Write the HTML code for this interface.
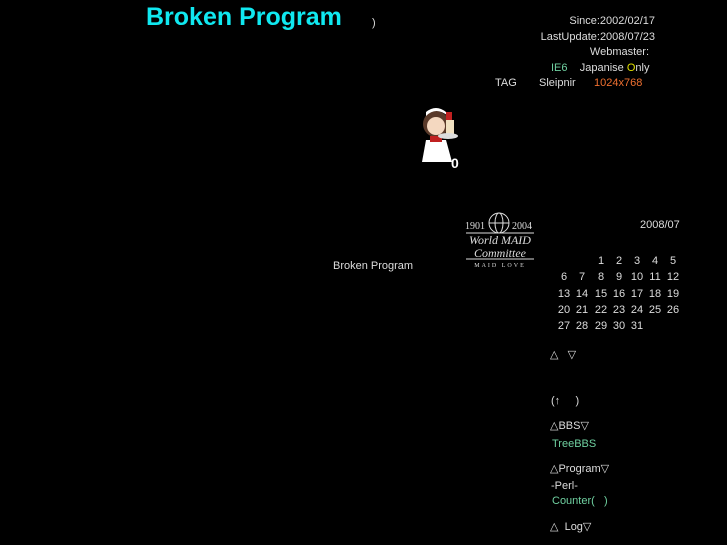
<!DOCTYPE html>
<html><head><meta charset="utf-8"><style>
body{margin:0;width:727px;height:545px;background:#000;position:relative;overflow:hidden;font-family:"Liberation Sans",sans-serif;font-size:11px;color:#ddd}
.a{position:absolute;white-space:nowrap;line-height:13px}
.r{text-align:right}
.g{color:#6fd0a0}
.cal span{position:absolute;width:18px;text-align:center;line-height:13px}
</style></head><body>
<div class="a" style="left:146px;top:3px;font-size:25px;line-height:29px;font-weight:bold;color:#10e8f0">Broken Program</div>
<div class="a" style="left:372px;top:17px">)</div>
<div class="a r" style="right:72px;top:15px">Since:2002/02/17</div>
<div class="a r" style="right:72px;top:31px">LastUpdate:2008/07/23</div>
<div class="a r" style="right:78px;top:46px">Webmaster:</div>
<div class="a" style="left:551px;top:62px"><span class="g">IE6</span>&nbsp;&nbsp;&nbsp;&nbsp;Japanise <span style="color:#e0e000">O</span>nly</div>
<div class="a" style="left:495px;top:77px">TAG</div>
<div class="a" style="left:539px;top:77px">Sleipnir</div>
<div class="a" style="left:594px;top:77px;color:#f07030">1024x768</div>
<svg class="a" style="left:418px;top:106px" width="45" height="65">
<circle cx="18" cy="18" r="13" fill="#5a3a2a"/><circle cx="18" cy="20" r="9" fill="#f4d8c0"/>
<path d="M8 10 Q18 0 30 10 L28 6 Q18 -2 8 6Z" fill="#fff"/><rect x="28" y="6" width="6" height="8" fill="#c02020"/>
<path d="M8 34 L28 34 L34 56 L4 56Z" fill="#fff"/><rect x="12" y="30" width="12" height="6" fill="#c02020"/>
<rect x="28" y="14" width="8" height="14" fill="#f0e0c0"/><ellipse cx="30" cy="30" rx="10" ry="3" fill="#ddd"/>
<text x="33" y="62" fill="#fff" font-family="Liberation Sans" font-weight="bold" font-size="14">0</text></svg>
<svg class="a" style="left:464px;top:210px" width="72" height="58">
<text x="1" y="19" fill="#ddd" font-family="Liberation Serif" font-size="10">1901</text>
<circle cx="35" cy="13" r="10" fill="none" stroke="#ddd"/><ellipse cx="35" cy="13" rx="4" ry="10" fill="none" stroke="#ddd"/><line x1="25" y1="13" x2="45" y2="13" stroke="#ddd"/>
<text x="48" y="19" fill="#ddd" font-family="Liberation Serif" font-size="10">2004</text>
<line x1="2" y1="23" x2="70" y2="23" stroke="#ddd"/>
<text x="36" y="34" text-anchor="middle" fill="#ddd" font-family="Liberation Serif" font-style="italic" font-size="12">World MAID</text>
<text x="36" y="47" text-anchor="middle" fill="#ddd" font-family="Liberation Serif" font-style="italic" font-size="12">Committee</text>
<line x1="2" y1="49" x2="70" y2="49" stroke="#ddd"/>
<text x="36" y="57" text-anchor="middle" fill="#ddd" font-family="Liberation Serif" font-size="6" letter-spacing="2">MAID LOVE</text></svg>
<div class="a" style="left:333px;top:260px">Broken Program</div>
<div class="a" style="left:640px;top:219px">2008/07</div>
<div class="cal">
<span style="left:592px;top:255px">1</span><span style="left:610px;top:255px">2</span><span style="left:628px;top:255px">3</span><span style="left:646px;top:255px">4</span><span style="left:664px;top:255px">5</span>
<span style="left:555px;top:271px">6</span><span style="left:573px;top:271px">7</span><span style="left:592px;top:271px">8</span><span style="left:610px;top:271px">9</span><span style="left:628px;top:271px">10</span><span style="left:646px;top:271px">11</span><span style="left:664px;top:271px">12</span>
<span style="left:555px;top:288px">13</span><span style="left:573px;top:288px">14</span><span style="left:592px;top:288px">15</span><span style="left:610px;top:288px">16</span><span style="left:628px;top:288px">17</span><span style="left:646px;top:288px">18</span><span style="left:664px;top:288px">19</span>
<span style="left:555px;top:304px">20</span><span style="left:573px;top:304px">21</span><span style="left:592px;top:304px">22</span><span style="left:610px;top:304px">23</span><span style="left:628px;top:304px">24</span><span style="left:646px;top:304px">25</span><span style="left:664px;top:304px">26</span>
<span style="left:555px;top:320px">27</span><span style="left:573px;top:320px">28</span><span style="left:592px;top:320px">29</span><span style="left:610px;top:320px">30</span><span style="left:628px;top:320px">31</span>
</div>
<div class="a" style="left:550px;top:349px">△&nbsp;&nbsp;&nbsp;▽</div>
<div class="a" style="left:551px;top:395px">(↑&nbsp;&nbsp;&nbsp;&nbsp;&nbsp;)</div>
<div class="a" style="left:550px;top:420px">△BBS▽</div>
<div class="a g" style="left:552px;top:438px">TreeBBS</div>
<div class="a" style="left:550px;top:463px">△Program▽</div>
<div class="a" style="left:551px;top:480px">-Perl-</div>
<div class="a g" style="left:552px;top:495px">Counter(&nbsp;&nbsp;&nbsp;)</div>
<div class="a" style="left:550px;top:521px">△&nbsp;&nbsp;Log▽</div>
</body></html>
